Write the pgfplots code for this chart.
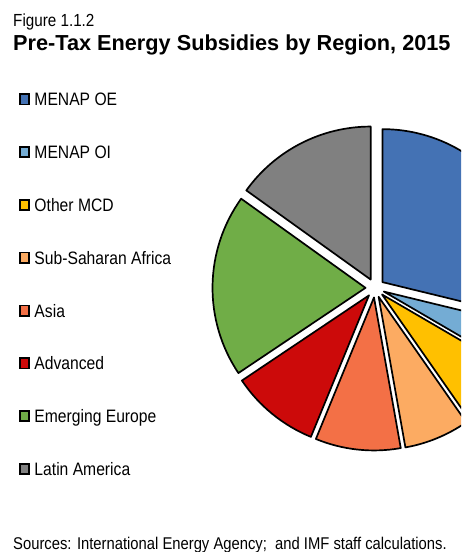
\documentclass[border=0pt]{standalone}
\usepackage{pgfplots}
\usepackage{pgfplotstable}
\pgfplotsset{compat=1.18}
\usepackage{fontspec}
\setmainfont{Liberation Sans}
\newfontfamily\narrow{Liberation Sans}[FakeStretch=0.87]

\definecolor{c0}{RGB}{68,114,180}
\definecolor{c1}{RGB}{116,172,212}
\definecolor{c2}{RGB}{255,192,0}
\definecolor{c3}{RGB}{252,171,98}
\definecolor{c4}{RGB}{243,112,70}
\definecolor{c5}{RGB}{204,10,10}
\definecolor{c6}{RGB}{112,173,71}
\definecolor{c7}{RGB}{128,128,128}

% share of pre-tax energy subsidies, percent
\pgfplotstableread{
region value
{MENAP OE} 28.8
{MENAP OI} 4.6
{Other MCD} 6.9
{Sub-Saharan Africa} 6.9
Asia 9.0
Advanced 9.4
{Emerging Europe} 19.3
{Latin America} 15.1
}\piedata

\begin{document}
\begin{tikzpicture}
\pgfmathsetmacro\cum{90}
\pgfplotsforeachungrouped \i in {0,...,7}{%
  \pgfplotstablegetelem{\i}{value}\of\piedata
  \pgfmathsetmacro\ang{3.6*\pgfplotsretval}%
  \pgfmathsetmacro\en{\cum-\ang}%
  \pgfmathsetmacro\md{\cum-\ang/2}%
  \pgfmathsetmacro\axx{375+9.5*cos(\md)}%
  \pgfmathsetmacro\ayy{288-9.5*sin(\md)}%
  \expandafter\xdef\csname sS\i\endcsname{\cum}%
  \expandafter\xdef\csname sE\i\endcsname{\en}%
  \expandafter\xdef\csname sX\i\endcsname{\axx}%
  \expandafter\xdef\csname sY\i\endcsname{\ayy}%
  \xdef\cum{\en}%
}
\path[use as bounding box] (0,0) rectangle (461pt,552pt);
\begin{axis}[
  at={(0,0)}, anchor=south west,
  x=1pt, y=1pt, y dir=reverse,
  xmin=0, xmax=461, ymin=0, ymax=552,
  hide axis, clip=true,
  legend image code/.code={%
    \filldraw[draw=black, line width=1.7pt] (0.85pt,-5.0pt) rectangle (10.15pt,5.3pt);
    \path (15.3pt,0pt);},
  legend cell align=left,
  legend style={
    at={(19/461,{1-93.1/552})}, anchor=north west,
    draw=none, fill=none, inner sep=0pt, outer sep=0pt,
    row sep=40.1pt,
    font=\narrow\fontsize{18}{20}\selectfont,
    nodes={inner sep=0pt, text height=12.7pt, text depth=0pt},
  },
]
\pgfplotsinvokeforeach{0,...,7}{%
  \edef\doslice{\noexpand\filldraw[fill=c#1, draw=black, line width=1.7pt, line join=round]
    (axis cs:\csname sX#1\endcsname,\csname sY#1\endcsname)
    -- ++(\csname sS#1\endcsname:153pt)
    arc[start angle=\csname sS#1\endcsname, end angle=\csname sE#1\endcsname, radius=153pt]
    -- cycle;}%
  \doslice
}
\addlegendimage{fill=c0}\addlegendentry{MENAP OE}
\addlegendimage{fill=c1}\addlegendentry{MENAP OI}
\addlegendimage{fill=c2}\addlegendentry{Other MCD}
\addlegendimage{fill=c3}\addlegendentry{Sub-Saharan Africa}
\addlegendimage{fill=c4}\addlegendentry{Asia}
\addlegendimage{fill=c5}\addlegendentry{Advanced}
\addlegendimage{fill=c6}\addlegendentry{Emerging Europe}
\addlegendimage{fill=c7}\addlegendentry{Latin America}
\node[anchor=base west, inner sep=0pt, font=\narrow\fontsize{17.5}{19}\selectfont] at (axis cs:13,26) {Figure 1.1.2};
\node[anchor=base west, inner sep=0pt, font=\bfseries\fontsize{21.7}{24}\selectfont] at (axis cs:13,50.7) {Pre-Tax Energy Subsidies by Region, 2015};
\node[anchor=base west, inner sep=0pt, font=\narrow\fontsize{17}{19}\selectfont] at (axis cs:13,549) {Sources: International Energy Agency;\ \ and IMF staff calculations.};
\end{axis}
\end{tikzpicture}
\end{document}
